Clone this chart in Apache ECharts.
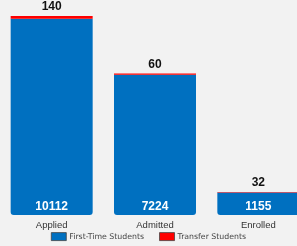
<!DOCTYPE html>
<html><head><meta charset="utf-8">
<script src="https://cdn.jsdelivr.net/npm/echarts@6/dist/echarts.min.js"></script>
<style>html,body{margin:0;padding:0;background:#f2f2f2;}#c{width:297px;height:246px;}</style>
</head><body><div id="c"></div>
<script>
var categories = ['Applied', 'Admitted', 'Enrolled'];
var firstTime = [10112, 7224, 1155];
var transfer = [140, 60, 32];
var seriesNames = ['First-Time Students', 'Transfer Students'];

var chart = echarts.init(document.getElementById('c'));
var totalMax = Math.max.apply(null, firstTime.map(function(v, i){ return v + transfer[i]; }));
chart.setOption({
  backgroundColor: '#f2f2f2',
  animation: false,
  textStyle: { fontFamily: 'Liberation Sans, Arial, sans-serif' },
  grid: { left: 0, width: 310, top: 16, bottom: 31, containLabel: false, outerBoundsMode: 'none' },
  legend: {
    bottom: 0, left: 'center', itemWidth: 15, itemHeight: 8, itemGap: 15,
    textStyle: { fontSize: 7.8, color: '#444', fontFamily: 'DejaVu Sans, Verdana, sans-serif', padding: [0, 0, 0, -2] },
    data: [
      { name: seriesNames[0], icon: 'rect', itemStyle: { borderColor: '#444', borderWidth: 0.8 } },
      { name: seriesNames[1], icon: 'rect', itemStyle: { borderColor: '#444', borderWidth: 0.8 } }
    ]
  },
  xAxis: {
    type: 'category', data: categories,
    axisLine: { show: false }, axisTick: { show: false },
    axisLabel: { fontSize: 9.5, color: '#333', margin: 5 }
  },
  yAxis: { type: 'value', min: 0, max: totalMax, show: false, splitLine: { show: false } },
  series: [
    {
      name: seriesNames[0], type: 'bar', stack: 's', data: firstTime, barWidth: 82,
      itemStyle: { color: '#0070c0', borderRadius: [0, 0, 3, 3] },
      label: { show: true, position: 'insideBottom', distance: 2, color: '#fff', fontSize: 12, fontWeight: 'bold' }
    },
    {
      name: seriesNames[1], type: 'bar', stack: 's', data: transfer, barWidth: 82,
      itemStyle: { color: '#ff0000' },
      label: { show: true, position: 'top', distance: 3, color: '#111', fontSize: 12, fontWeight: 'bold' }
    }
  ]
});
</script></body></html>
